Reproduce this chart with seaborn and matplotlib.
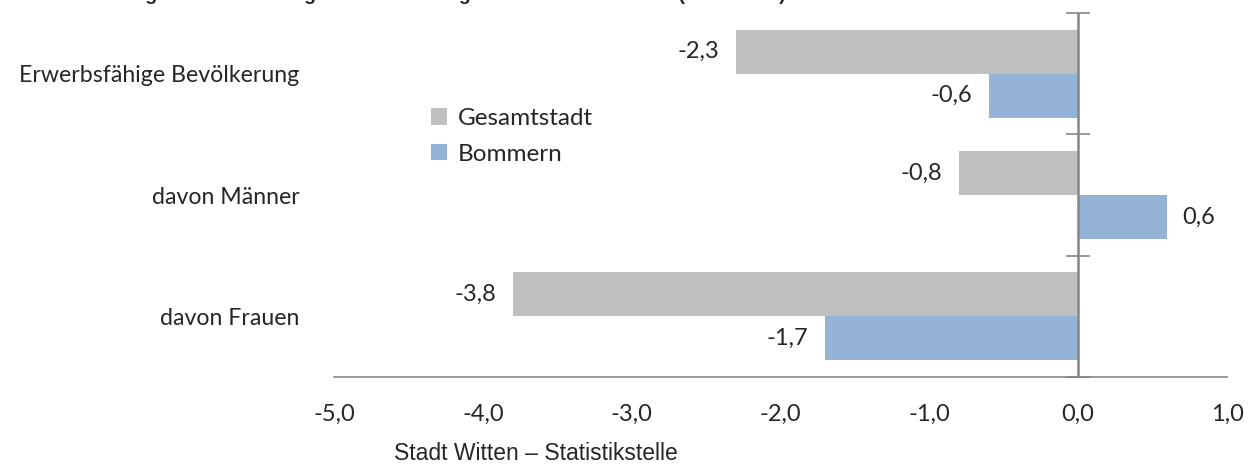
import numpy as np
import pandas as pd
import matplotlib
matplotlib.use("Agg")
import matplotlib.pyplot as plt
import seaborn as sns

categories = ['Erwerbsfähige Bevölkerung', 'davon Männer', 'davon Frauen']
gesamtstadt = [-2.3, -0.8, -3.8]
bommern = [-0.6, 0.6, -1.7]
series = ['Gesamtstadt', 'Bommern']
x_ticks = [-5, -4, -3, -2, -1, 0, 1]

df = pd.DataFrame({
    'Kategorie': categories * 2,
    'Wert': gesamtstadt + bommern,
    'Gebiet': [series[0]] * 3 + [series[1]] * 3,
})

sns.set_style('white')
plt.rcParams['font.family'] = ['Lato', 'DejaVu Sans']
fs = 17

axis_col = '#868686'
fig = plt.figure(figsize=(12.57, 4.68), dpi=100)
ax = fig.add_axes([0.2657, 0.1944, 0.7104, 0.7778])

sns.barplot(data=df, x='Wert', y='Kategorie', hue='Gebiet', orient='h',
            palette=['#BFBFBF', '#95B3D7'], width=0.725, saturation=1,
            linewidth=0, ax=ax)

ax.set_xlim(-5, 1)
ax.set_ylim(2.5, -0.5)
ax.set_xticks(x_ticks)
ax.set_xticklabels([f'{v:.1f}'.replace('.', ',') for v in x_ticks], fontsize=fs)
ax.tick_params(axis='x', direction='out', length=8, width=1.2, color=axis_col, pad=11)
ax.tick_params(axis='y', length=0, pad=25, labelsize=16.7)
ax.set_xlabel('')
ax.set_ylabel('')
for s in ['top', 'right', 'left']:
    ax.spines[s].set_visible(False)
ax.spines['bottom'].set_color(axis_col)
ax.spines['bottom'].set_linewidth(1.2)

# vertical axis at x=0 with ticks between the categories
ax.axvline(0, color=axis_col, lw=1.8, zorder=3)
sec = ax.secondary_yaxis(5 / 6)
sec.set_yticks([-0.5, 0.5, 1.5, 2.5])
sec.set_yticklabels([])
sec.tick_params(direction='inout', length=17, width=1.2, color=axis_col)
for s in ['left', 'right', 'top', 'bottom']:
    sec.spines[s].set_visible(False)

# value labels
offsets = [-0.18, 0.18]
for vals, off in zip([gesamtstadt, bommern], offsets):
    for i, v in enumerate(vals):
        txt = f'{v:.1f}'.replace('.', ',')
        if v < 0:
            ax.annotate(txt, (v, i + off), xytext=(-12, 0), textcoords='offset points',
                        ha='right', va='center', fontsize=fs)
        else:
            ax.annotate(txt, (v, i + off), xytext=(11, 0), textcoords='offset points',
                        ha='left', va='center', fontsize=fs)

leg = ax.legend(loc='upper left', bbox_to_anchor=(431 / 1257, 1 - 108 / 468),
                bbox_transform=fig.transFigure, frameon=False, borderpad=0,
                borderaxespad=0, fontsize=fs + 0.5, handlelength=0.65, handleheight=0.65,
                handletextpad=0.45, labelspacing=0.6)

fig.text(536 / 1257, 1 - 453 / 468, 'Stadt Witten – Statistikstelle', ha='center', va='center',
         family='Liberation Sans', fontsize=16.5)
fig.text(0.03, 1.0, 'Veränderung der Bevölkerung im erwerbsfähigen Alter 2012 bis 2017 (in Prozent)',
         ha='left', va='baseline', fontsize=14, fontweight='bold', family='Liberation Sans')

fig.savefig('out.png', dpi=100)
